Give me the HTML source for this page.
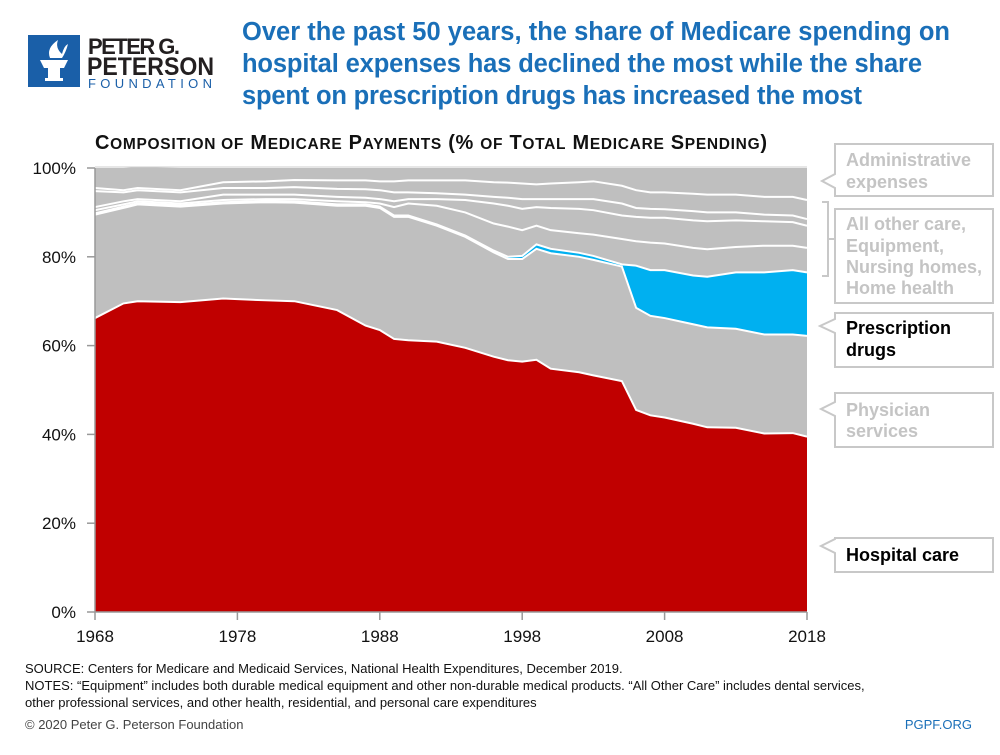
<!DOCTYPE html>
<html><head><meta charset="utf-8"><style>
body{margin:0;background:#fff;width:1000px;height:750px;overflow:hidden;font-family:"Liberation Sans",sans-serif}
</style></head><body>
<svg width="1000" height="750" xmlns="http://www.w3.org/2000/svg" font-family="Liberation Sans, sans-serif">
<g>
<rect x="28" y="35" width="52" height="52" fill="#1a5fa8"/>
<path d="M40 60 h28 l-4 8 h-20 z M48 68 h12 v10 h-12 z M45 78 h18 v3 h-18 z" fill="#fff"/>
<path d="M50 58 q-4 -10 8 -18 q-3 8 4 14 q2 -8 6 -10 q-2 8 -6 14 z" fill="#fff"/>
<text x="88" y="54" font-size="22" font-weight="bold" fill="#231f20" textLength="92">PETER G.</text>
<text x="87" y="75" font-size="25" font-weight="bold" fill="#231f20" textLength="127" lengthAdjust="spacingAndGlyphs">PETERSON</text>
<text x="88" y="88" font-size="13" fill="#1a5fa8" textLength="124">FOUNDATION</text>
</g>
<g font-size="25.5" font-weight="bold" fill="#1a6fb8">
<text x="242" y="40" textLength="708">Over the past 50 years, the share of Medicare spending on</text>
<text x="242" y="72" textLength="680">hospital expenses has declined the most while the share</text>
<text x="242" y="104" textLength="620">spent on prescription drugs has increased the most</text>
</g>
<text x="95" y="149" font-size="20" font-weight="bold" fill="#111" textLength="672">C<tspan font-size="15.5">OMPOSITION OF</tspan> M<tspan font-size="15.5">EDICARE</tspan> P<tspan font-size="15.5">AYMENTS</tspan> (% <tspan font-size="15.5">OF</tspan> T<tspan font-size="15.5">OTAL</tspan> M<tspan font-size="15.5">EDICARE</tspan> S<tspan font-size="15.5">PENDING</tspan>)</text>
<g id="plot"></g>
<g id="axes"></g>
<g font-size="18" font-weight="bold">
<path d="M835 144 H993 V196 H835 V188 L822 181 L835 174 Z" fill="#fff" stroke="#c8c8c8" stroke-width="2"/>
<text x="846" y="166" fill="#c4c4c4">Administrative</text><text x="846" y="188" fill="#c4c4c4">expenses</text>
<path d="M822 202 H828 V276 H822 M828 239 H835" fill="none" stroke="#c8c8c8" stroke-width="2"/>
<rect x="835" y="209" width="158" height="94" fill="#fff" stroke="#c8c8c8" stroke-width="2"/>
<text x="846" y="230" fill="#c4c4c4">All other care,</text><text x="846" y="252" fill="#c4c4c4">Equipment,</text><text x="846" y="273" fill="#c4c4c4">Nursing homes,</text><text x="846" y="294" fill="#c4c4c4">Home health</text>
<path d="M835 313 H993 V367 H835 V333 L820 326 L835 319 Z" fill="#fff" stroke="#c8c8c8" stroke-width="2"/>
<text x="846" y="334" fill="#000">Prescription</text><text x="846" y="356" fill="#000">drugs</text>
<path d="M835 393 H993 V447 H835 V416 L821 409 L835 402 Z" fill="#fff" stroke="#c8c8c8" stroke-width="2"/>
<text x="846" y="416" fill="#c4c4c4">Physician</text><text x="846" y="437" fill="#c4c4c4">services</text>
<path d="M835 538 H993 V572 H835 V553 L821 546 L835 539 Z" fill="#fff" stroke="#c8c8c8" stroke-width="2"/>
<text x="846" y="561" fill="#000">Hospital care</text>
</g>
<g font-size="13" fill="#111">
<text x="25" y="673">SOURCE: Centers for Medicare and Medicaid Services, National Health Expenditures, December 2019.</text>
<text x="25" y="690">NOTES: “Equipment” includes both durable medical equipment and other non-durable medical products. “All Other Care” includes dental services,</text>
<text x="25" y="707">other professional services, and other health, residential, and personal care expenditures</text>
</g>
<text x="25" y="729" font-size="13" fill="#444">© 2020 Peter G. Peterson Foundation</text>
<text x="972" y="729" font-size="13" fill="#1a6fb8" text-anchor="end">PGPF.ORG</text>
</svg>
<script>
const years=[1968,1970,1971,1974,1977,1980,1982,1985,1987,1988,1989,1990,1992,1994,1996,1997,1998,1999,2000,2002,2003,2005,2006,2007,2008,2010,2011,2013,2015,2017,2018];
const hospital=[66.2,69.5,70,69.8,70.6,70.2,70,68,64.5,63.5,61.5,61.2,60.9,59.5,57.5,56.7,56.4,56.8,54.8,54,53.3,52,45.5,44.3,43.8,42.4,41.6,41.5,40.2,40.3,39.5];
const physician=[23.3,21.5,21.8,21.5,21.4,22.1,22.2,23.5,27,27.5,27.5,27.8,26.1,25,23.5,22.8,23.1,25,26,26,26,25.8,23,22.4,22.4,22.4,22.5,22.3,22.3,22.2,22.7];
const drugs=[0.3,0.3,0.3,0.3,0.3,0.3,0.3,0.3,0.3,0.3,0.3,0.3,0.3,0.3,0.4,0.5,0.7,1,1,0.9,0.9,0.5,9.5,10.3,10.8,11,11.4,12.7,14,14.5,14.3];
const homeHealth=[0.7,0.5,0.4,0.4,0.5,0.4,0.5,0.7,0.5,0.7,1.9,2.7,4.2,5.2,6.1,6.8,5.8,4.2,4.2,4.4,4.8,5.7,5.5,6.2,6,6.2,6.2,5.7,6,5.5,5.5];
const nursing=[0.7,0.7,0.5,0.5,1.2,1,1,1,1,1,1.3,1,1.5,2.8,4.5,4.7,4.8,4.2,5,5.5,5.5,5.3,5.5,5.6,5.8,6.2,6.3,6,5.5,5.3,5];
const equipment=[3.6,2,2,2,1.5,1.5,1.7,1.8,1.9,2,2,1.5,1.3,1.2,1.5,1.8,2.2,1.8,2,2.2,2.5,2.7,2,2,1.9,2.1,2,1.8,1.5,1.5,1.5];
const allOther=[0.7,0.5,0.5,0.5,1.3,1.5,1.6,1.9,2,2,2.5,2.7,2.9,3.2,3.3,3.4,3.5,3.3,3.5,3.8,4,4,4,3.7,3.8,3.9,4,4,4,4.2,4.3];
const admin=[4.5,5,4.7,5,3.2,3,2.7,2.8,2.8,3,3,2.8,2.8,2.8,3.2,3.3,3.5,3.7,3.5,3.2,3,4,5,5.5,5.5,5.8,6,6,6.5,6.5,7.2];
const yTicks=[0,20,40,60,80,100];
const xTicks=[1968,1978,1988,1998,2008,2018];
const NS='http://www.w3.org/2000/svg';
const X0=95,X1=807,Y0=612,Y1=168;
const sx=v=>X0+(v-1968)/(2018-1968)*(X1-X0);
const sy=v=>Y0-v/100*(Y0-Y1);
const series=[[hospital,'#c00000','area-hospital'],[physician,'#bfbfbf','area-physician'],[drugs,'#00b0f0','area-drugs'],[homeHealth,'#bfbfbf','area-home-health'],[nursing,'#bfbfbf','area-nursing'],[equipment,'#bfbfbf','area-equipment'],[allOther,'#bfbfbf','area-all-other'],[admin,'#bfbfbf','area-admin']];
const plotG=document.getElementById('plot');
let base=years.map(()=>0);
series.forEach(([vals,col,name])=>{
  const tops=base.map((b,i)=>b+vals[i]);
  let d='M'+years.map((yr,i)=>sx(yr)+','+sy(tops[i])).join(' L');
  for(let i=years.length-1;i>=0;i--) d+=' L'+sx(years[i])+','+sy(base[i]);
  d+=' Z';
  const p=document.createElementNS(NS,'path');
  p.setAttribute('d',d);p.setAttribute('fill',col);
  
  
  plotG.appendChild(p);
  base=tops;
});
base=years.map(()=>0);
series.slice(0,7).forEach(([vals,col,name])=>{
  base=base.map((b,i)=>b+vals[i]);
  const l=document.createElementNS(NS,'polyline');
  l.setAttribute('points',years.map((yr,i)=>sx(yr)+','+sy(base[i])).join(' '));
  l.setAttribute('fill','none');l.setAttribute('stroke','#fff');l.setAttribute('stroke-width','2');
  
  
  plotG.appendChild(l);
});
const axG=document.getElementById('axes');
function add(tag,attrs,txt){const e=document.createElementNS(NS,tag);for(const k in attrs)e.setAttribute(k,attrs[k]);if(txt!==undefined)e.textContent=txt;axG.appendChild(e);return e;}
const plotBorder=add('line',{x1:X0,x2:X1,y1:Y1-1,y2:Y1-1,stroke:'#ccc','stroke-width':1});


const yAxisLine=add('line',{x1:X0,x2:X0,y1:Y1,y2:Y0,stroke:'#999','stroke-width':1.5});


const xAxisLine=add('line',{x1:X0,x2:X1,y1:Y0,y2:Y0,stroke:'#999','stroke-width':1.5});


yTicks.forEach(t=>{
  add('line',{x1:X0-8,x2:X0,y1:sy(t),y2:sy(t),stroke:'#999','stroke-width':1.5});
  const e=add('text',{x:76,y:sy(t)+6,'font-size':17,'text-anchor':'end',fill:'#111'},t+'%');
  
  
});
xTicks.forEach(t=>{
  add('line',{x1:sx(t),x2:sx(t),y1:Y0,y2:Y0+8,stroke:'#999','stroke-width':1.5});
  const e=add('text',{x:sx(t),y:Y0+30,'font-size':17,'text-anchor':'middle',fill:'#111'},t);
  
  
});
</script>
</body></html>
